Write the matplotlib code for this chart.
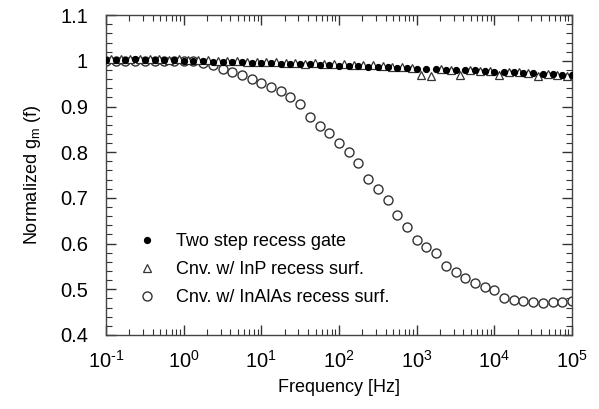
import numpy as np
import matplotlib
matplotlib.use("Agg")
import matplotlib.pyplot as plt
from matplotlib.ticker import LogLocator, MultipleLocator, FixedLocator, NullFormatter

plt.rcParams["font.family"] = ["Liberation Sans", "DejaVu Sans"]
plt.rcParams["mathtext.fontset"] = "custom"
plt.rcParams["mathtext.rm"] = "Liberation Sans"
plt.rcParams["mathtext.it"] = "Liberation Sans:italic"

# --- data ---
freq = [0.1, 0.133, 0.178, 0.237, 0.316, 0.422, 0.562, 0.750,
        1.0, 1.33, 1.78, 2.37, 3.16, 4.22, 5.62, 7.50,
        10, 13.3, 17.8, 23.7, 31.6, 42.2, 56.2, 75.0,
        100, 133, 178, 237, 316, 422, 562, 750,
        1000, 1330, 1780, 2370, 3160, 4220, 5620, 7500,
        1e4, 13300, 17800, 23700, 31600, 42200, 56200, 75000, 1e5]

freq_tri = [0.115, 0.154, 0.205, 0.274, 0.365, 0.487, 0.649, 0.866,
            1.15, 1.54, 2.05, 2.74, 3.65, 4.87, 6.49, 8.66,
            11.5, 15.4, 20.5, 27.4, 36.5, 48.7, 64.9, 86.6,
            115, 154, 205, 274, 365, 487, 649, 866,
            1150, 1540, 2050, 2740, 3650, 4870, 6490, 8660,
            11500, 15400, 20500, 27400, 36500, 48700, 64900, 86600]

gm_two_step = [1.001, 1.002, 1.002, 1.003, 1.002, 1.002, 1.002, 1.001,
               1.000, 0.999, 0.999, 0.998, 0.998, 0.997, 0.997, 0.996,
               0.995, 0.995, 0.994, 0.993, 0.993, 0.992, 0.991, 0.990,
               0.989, 0.989, 0.988, 0.987, 0.987, 0.986, 0.985, 0.984,
               0.983, 0.983, 0.982, 0.981, 0.980, 0.980, 0.979, 0.977,
               0.976, 0.975, 0.975, 0.974, 0.973, 0.972, 0.971, 0.970, 0.969]

gm_inp = [1.003, 1.004, 1.003, 1.004, 1.003, 1.003, 1.002, 1.003,
          1.002, 1.001, 1.002, 1.000, 0.999, 1.000, 0.998, 0.998,
          0.997, 0.997, 0.996, 0.995, 0.994, 0.995, 0.993, 0.992,
          0.992, 0.991, 0.990, 0.990, 0.988, 0.987, 0.986, 0.984,
          0.970, 0.966, 0.982, 0.981, 0.968, 0.980, 0.978, 0.977,
          0.969, 0.976, 0.975, 0.974, 0.967, 0.972, 0.970, 0.966]

gm_inalas = [1.000, 1.000, 1.000, 1.000, 1.000, 1.000, 1.000, 1.000,
             1.000, 0.999, 0.996, 0.990, 0.983, 0.975, 0.968, 0.960,
             0.951, 0.942, 0.933, 0.920, 0.905, 0.876, 0.857, 0.842,
             0.820, 0.800, 0.776, 0.742, 0.720, 0.696, 0.663, 0.636,
             0.608, 0.593, 0.580, 0.550, 0.538, 0.525, 0.514, 0.505,
             0.498, 0.482, 0.477, 0.474, 0.472, 0.471, 0.472, 0.473, 0.474]

xtick_vals = [0.1, 1, 10, 100, 1e3, 1e4, 1e5]
xtick_labels = ["10$^{\\text{-1}}$", "10$^{0}$", "10$^{1}$", "10$^{2}$",
                "10$^{3}$", "10$^{4}$", "10$^{5}$"]

fig = plt.figure(figsize=(5.99, 4.09), dpi=100)
ax = fig.add_axes([0.177, 0.181, 0.778, 0.782])

ax.plot(freq, gm_inalas, "o", mfc="white", mec="#333333", ms=6.5, mew=1.0,
        label="Cnv. w/ InAlAs recess surf.", zorder=2)
ax.plot(freq_tri, gm_inp, "^", mfc="white", mec="#333333", ms=5.5, mew=0.9,
        label="Cnv. w/ InP recess surf.", zorder=3)
ax.plot(freq, gm_two_step, "o", color="black", ms=4.2,
        label="Two step recess gate", zorder=4)

ax.set_xscale("log")
ax.set_xlim(0.1, 1e5)
ax.set_ylim(0.4, 1.1)

ax.xaxis.set_major_locator(FixedLocator(xtick_vals))
ax.set_xticklabels(xtick_labels)
ax.xaxis.set_minor_locator(LogLocator(base=10, subs=np.arange(2, 10), numticks=20))
ax.xaxis.set_minor_formatter(NullFormatter())

ax.yaxis.set_major_locator(MultipleLocator(0.1))
ax.yaxis.set_minor_locator(MultipleLocator(0.02))
ax.yaxis.set_major_formatter(plt.FuncFormatter(lambda v, p: f"{v:g}"))

ax.tick_params(which="both", direction="in", top=True, right=True, colors="#333333")
ax.tick_params(which="major", length=7, width=1, labelsize=14.5, labelcolor="black")
ax.tick_params(axis="y", which="major", pad=13)
ax.tick_params(axis="x", which="major", pad=11)
ax.tick_params(which="minor", length=4, width=0.8)
for s in ax.spines.values():
    s.set_color("#444444")
    s.set_linewidth(1.0)

ax.set_xlabel("Frequency [Hz]", fontsize=13, labelpad=5)
ax.set_ylabel("Normalized g$_\\mathrm{m}$ (f)", fontsize=13, labelpad=12)

h, l = ax.get_legend_handles_labels()
ax.legend(h[::-1], l[::-1], loc="lower left", bbox_to_anchor=(0.03, 0.04),
          frameon=False, fontsize=13, handletextpad=1.0, labelspacing=0.6,
          handlelength=1.2)

fig.savefig("out.png", dpi=100)
